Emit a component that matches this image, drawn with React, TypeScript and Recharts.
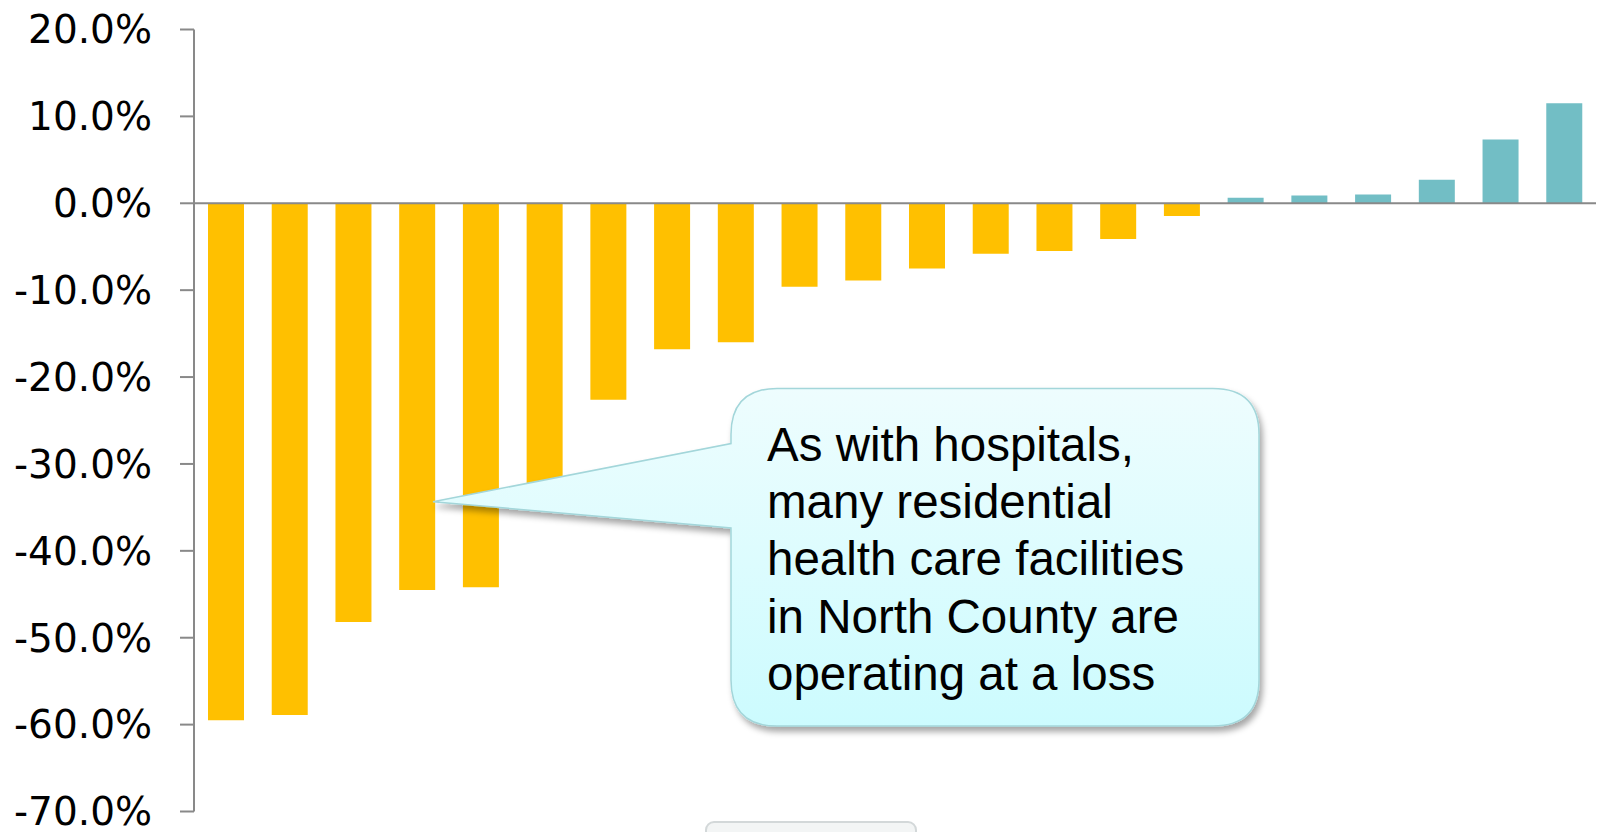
import React from 'react';
import { BarChart, Bar, XAxis, YAxis, Cell, ReferenceLine } from 'recharts';

// facility ids (no labels shown in the source)
const facilities = [
  'F1', 'F2', 'F3', 'F4', 'F5', 'F6', 'F7', 'F8', 'F9', 'F10', 'F11',
  'F12', 'F13', 'F14', 'F15', 'F16', 'F17', 'F18', 'F19', 'F20', 'F21', 'F22',
];

// operating margin, %
const margins = [
  -59.5, -58.9, -48.2, -44.5, -44.2, -32.5, -22.6, -16.8, -16.0, -9.6, -8.9,
  -7.5, -5.8, -5.5, -4.1, -1.45, 0.65, 0.9, 1.0, 2.7, 7.35, 11.5,
];

const yTicks = [20, 10, 0, -10, -20, -30, -40, -50, -60, -70];

const calloutLines = [
  'As with hospitals,',
  'many residential',
  'health care facilities',
  'in North County are',
  'operating at a loss',
];

const LOSS = '#FFC000';
const GAIN = '#72BEC5';
const AXIS = '#898989';

const data = facilities.map((name, i) => ({ name, margin: margins[i] }));

function Callout() {
  return (
    <svg
      width={1599}
      height={832}
      style={{ position: 'absolute', left: 0, top: 0, pointerEvents: 'none' }}
    >
      <defs>
        <linearGradient id="calloutFill" x1="0" y1="0" x2="0" y2="1">
          <stop offset="0%" stopColor="#EEFDFE" />
          <stop offset="100%" stopColor="#CCFBFE" />
        </linearGradient>
        <filter id="calloutShadow" x="-10%" y="-10%" width="130%" height="130%">
          <feDropShadow dx="3" dy="5" stdDeviation="3" floodColor="#000" floodOpacity="0.35" />
        </filter>
      </defs>
      {/* faint shape peeking in at the bottom */}
      <rect x={706} y={822} width={210} height={40} rx={8} fill="#F3F5F5" stroke="#D3D8D9" strokeWidth={2} />
      <path
        d="M 777 388.5 L 1213 388.5 Q 1259 388.5 1259 434.5 L 1259 680 Q 1259 726 1213 726
           L 777 726 Q 731 726 731 680 L 731 528 L 433 501.7 L 731 443.6 L 731 434.5 Q 731 388.5 777 388.5 Z"
        fill="url(#calloutFill)"
        stroke="#A3D6DA"
        strokeWidth={1.5}
        filter="url(#calloutShadow)"
      />
      <text fontFamily="'Liberation Sans', Arial, sans-serif" fontSize={47.5} fill="#000">
        {calloutLines.map((line, i) => (
          <tspan key={i} x={767} y={461 + i * 57.2}>
            {line}
          </tspan>
        ))}
      </text>
    </svg>
  );
}

export default function App() {
  return (
    <div style={{ position: 'absolute', left: 0, top: 0, width: 1599, height: 832, background: '#fff', overflow: 'hidden' }}>
      <BarChart
        width={1599}
        height={832}
        data={data}
        margin={{ top: 29.5, right: 3, bottom: 20.5, left: 0 }}
        barCategoryGap={0}
      >
        <XAxis dataKey="name" hide />
        <YAxis
          width={194}
          domain={[-70, 20]}
          ticks={yTicks}
          interval={0}
          axisLine={{ stroke: AXIS, strokeWidth: 2 }}
          tickLine={{ stroke: AXIS, strokeWidth: 2 }}
          tickSize={14}
          tickMargin={28}
          tick={{ fill: '#000', fontSize: 39, fontFamily: "'DejaVu Sans', sans-serif" }}
          tickFormatter={(v: number) => `${v.toFixed(1)}%`}
        />
        <Bar dataKey="margin" barSize={36} isAnimationActive={false}>
          {data.map((d, i) => (
            <Cell key={`cell-${i}`} fill={d.margin < 0 ? LOSS : GAIN} />
          ))}
        </Bar>
        <ReferenceLine y={0} stroke={AXIS} strokeWidth={2} />
      </BarChart>
      <Callout />
    </div>
  );
}
